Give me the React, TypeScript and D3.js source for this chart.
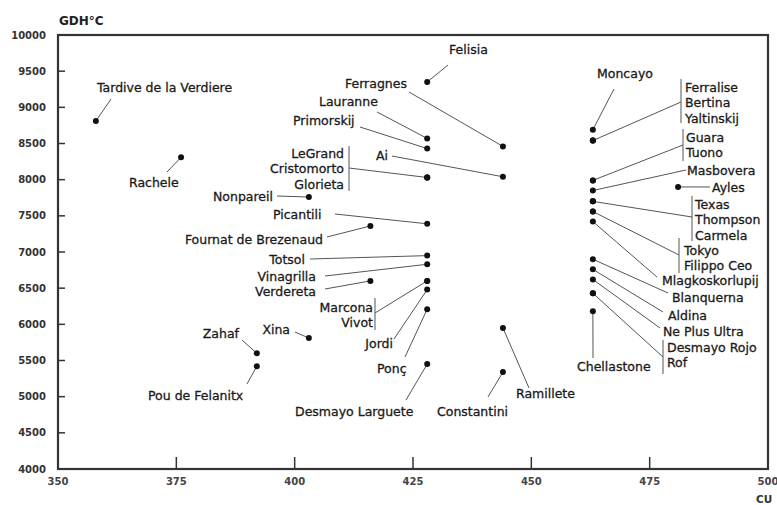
import React from "react";
import * as d3 from "d3";

// ---------- data ----------
const varieties = [
  "Tardive de la Verdiere", "Rachele", "Nonpareil", "Fournat de Brezenaud", "Picantili",
  "Felisia", "Lauranne", "Primorskij", "LeGrand", "Cristomorto", "Glorieta",
  "Ferragnes", "Ai", "Totsol", "Vinagrilla", "Verdereta", "Marcona", "Vivot",
  "Jordi", "Ponç", "Desmayo Larguete", "Xina", "Zahaf", "Pou de Felanitx",
  "Constantini", "Ramillete", "Moncayo", "Ferralise", "Bertina", "Yaltinskij",
  "Guara", "Tuono", "Masbovera", "Ayles", "Texas", "Thompson", "Carmela",
  "Tokyo", "Filippo Ceo", "Mlagkoskorlupij", "Blanquerna", "Aldina",
  "Ne Plus Ultra", "Desmayo Rojo", "Rof", "Chellastone",
];
const cuValues = [
  358, 376, 403, 416, 428,
  428, 428, 428, 428, 428, 428,
  444, 444, 428, 428, 416, 428, 428,
  428, 428, 428, 403, 392, 392,
  444, 444, 463, 463, 463, 463,
  463, 463, 463, 481, 463, 463, 463,
  463, 463, 463, 463, 463,
  463, 463, 463, 463,
];
const gdhValues = [
  8810, 8310, 7760, 7360, 7390,
  9350, 8570, 8430, 8030, 8030, 8030,
  8460, 8040, 6950, 6830, 6600, 6600, 6600,
  6480, 6210, 5450, 5810, 5600, 5420,
  5340, 5950, 8690, 8540, 8540, 8540,
  7990, 7990, 7850, 7900, 7700, 7700, 7700,
  7560, 7560, 7420, 6900, 6760,
  6620, 6430, 6430, 6180,
];
const xTicks = [350, 375, 400, 425, 450, 475, 500];
const yTicks = [4000, 4500, 5000, 5500, 6000, 6500, 7000, 7500, 8000, 8500, 9000, 9500, 10000];
const yTitle = "GDH°C";
const xTitle = "CU";

// ---------- label layout (pixels) ----------
type Ann = {
  names: string[];
  tx: number; ty: number; anchor: "start" | "end";
  lx: number; ly: number;
  bracket?: [number, number, number];
};
const annotations: Ann[] = [
  { names: ["Tardive de la Verdiere"], tx: 97, ty: 87, anchor: "start", lx: 111, ly: 99 },
  { names: ["Rachele"], tx: 129, ty: 182, anchor: "start", lx: 167, ly: 172 },
  { names: ["Nonpareil"], tx: 273, ty: 196, anchor: "end", lx: 277, ly: 196 },
  { names: ["Fournat de Brezenaud"], tx: 323, ty: 239, anchor: "end", lx: 327, ly: 237 },
  { names: ["Picantili"], tx: 273, ty: 214, anchor: "start", lx: 335, ly: 214 },
  { names: ["Felisia"], tx: 449, ty: 49, anchor: "start", lx: 448, ly: 65 },
  { names: ["Ferragnes"], tx: 345, ty: 83, anchor: "start", lx: 409, ly: 92 },
  { names: ["Lauranne"], tx: 319, ty: 101, anchor: "start", lx: 377, ly: 112 },
  { names: ["Primorskij"], tx: 293, ty: 120, anchor: "start", lx: 360, ly: 127 },
  { names: ["LeGrand", "Cristomorto", "Glorieta"], tx: 344, ty: 153, anchor: "end", lx: 349, ly: 168, bracket: [349, 146, 191] },
  { names: ["Ai"], tx: 376, ty: 155, anchor: "start", lx: 392, ly: 156 },
  { names: ["Totsol"], tx: 305, ty: 259, anchor: "end", lx: 310, ly: 259 },
  { names: ["Vinagrilla"], tx: 316, ty: 276, anchor: "end", lx: 325, ly: 276 },
  { names: ["Verdereta"], tx: 316, ty: 291, anchor: "end", lx: 325, ly: 289 },
  { names: ["Marcona", "Vivot"], tx: 373, ty: 307, anchor: "end", lx: 375, ly: 313, bracket: [375, 298, 330] },
  { names: ["Jordi"], tx: 393, ty: 343, anchor: "end", lx: 394, ly: 339 },
  { names: ["Ponç"], tx: 377, ty: 368, anchor: "start", lx: 405, ly: 357 },
  { names: ["Desmayo Larguete"], tx: 295, ty: 411, anchor: "start", lx: 406, ly: 400 },
  { names: ["Xina"], tx: 290, ty: 329, anchor: "end", lx: 295, ly: 332 },
  { names: ["Zahaf"], tx: 239, ty: 333, anchor: "end", lx: 242, ly: 340 },
  { names: ["Pou de Felanitx"], tx: 148, ty: 395, anchor: "start", lx: 247, ly: 384 },
  { names: ["Constantini"], tx: 437, ty: 411, anchor: "start", lx: 488, ly: 397 },
  { names: ["Ramillete"], tx: 516, ty: 393, anchor: "start", lx: 529, ly: 388 },
  { names: ["Moncayo"], tx: 597, ty: 73, anchor: "start", lx: 614, ly: 89 },
  { names: ["Ferralise", "Bertina", "Yaltinskij"], tx: 685, ty: 87, anchor: "start", lx: 681, ly: 102, bracket: [681, 79, 123] },
  { names: ["Guara", "Tuono"], tx: 686, ty: 137, anchor: "start", lx: 683, ly: 145, bracket: [683, 129, 161] },
  { names: ["Masbovera"], tx: 687, ty: 170, anchor: "start", lx: 686, ly: 170 },
  { names: ["Ayles"], tx: 712, ty: 187, anchor: "start", lx: 710, ly: 187 },
  { names: ["Texas", "Thompson", "Carmela"], tx: 695, ty: 204, anchor: "start", lx: 692, ly: 217, bracket: [692, 196, 241] },
  { names: ["Tokyo", "Filippo Ceo"], tx: 684, ty: 250, anchor: "start", lx: 679, ly: 255, bracket: [679, 238, 273] },
  { names: ["Mlagkoskorlupij"], tx: 662, ty: 280, anchor: "start", lx: 657, ly: 277 },
  { names: ["Blanquerna"], tx: 672, ty: 297, anchor: "start", lx: 668, ly: 293 },
  { names: ["Aldina"], tx: 668, ty: 315, anchor: "start", lx: 663, ly: 312 },
  { names: ["Ne Plus Ultra"], tx: 663, ty: 331, anchor: "start", lx: 660, ly: 328 },
  { names: ["Desmayo Rojo", "Rof"], tx: 667, ty: 347, anchor: "start", lx: 663, ly: 357, bracket: [663, 340, 374] },
  { names: ["Chellastone"], tx: 577, ty: 366, anchor: "start", lx: 593, ly: 358 },
];

const W = 777, H = 505;
const M = { left: 58, right: 768, top: 35, bottom: 469 };
const LINE_H = 15.5;
const FONT = "'DejaVu Sans', sans-serif";

export default function App() {
  const x = d3.scaleLinear().domain([350, 500]).range([M.left, M.right]);
  const y = d3.scaleLinear().domain([4000, 10000]).range([M.bottom, M.top]);
  const idx = (n: string) => varieties.indexOf(n);
  const px = (n: string) => x(cuValues[idx(n)]);
  const py = (n: string) => y(gdhValues[idx(n)]);

  return (
    <svg width={W} height={H} style={{ position: "absolute", left: 0, top: 0, background: "#fff" }}>
      {/* ticks */}
      {yTicks.map((t) => (
        <g key={"y" + t}>
          <line x1={M.left} x2={M.left + 7} y1={y(t)} y2={y(t)} stroke="#333" strokeWidth={1.5} />
          <text x={46} y={y(t) + 3.6} textAnchor="end" fontFamily={FONT} fontWeight="bold" fontSize={10} fill="#333">{t}</text>
        </g>
      ))}
      {xTicks.map((t) => (
        <g key={"x" + t}>
          <line x1={x(t)} x2={x(t)} y1={M.bottom} y2={M.bottom - 12} stroke="#333" strokeWidth={1.5} />
          <text x={x(t)} y={485} textAnchor="middle" fontFamily={FONT} fontWeight="bold" fontSize={10} fill="#444">{t}</text>
        </g>
      ))}
      <rect x={M.left} y={M.top} width={M.right - M.left} height={M.bottom - M.top} fill="none" stroke="#333" strokeWidth={2.2} />
      <text x={59} y={25} fontFamily={FONT} fontWeight="bold" fontSize={12} fill="#222">{yTitle}</text>
      <text x={756} y={503} fontFamily={FONT} fontWeight="bold" fontSize={10.5} fill="#333">{xTitle}</text>

      {/* annotations */}
      {annotations.map((a, i) => (
        <g key={"a" + i}>
          <line x1={a.lx} y1={a.ly} x2={px(a.names[0])} y2={py(a.names[0])} stroke="#555" strokeWidth={1} />
          {a.bracket && (
            <line x1={a.bracket[0]} x2={a.bracket[0]} y1={a.bracket[1]} y2={a.bracket[2]} stroke="#555" strokeWidth={1} />
          )}
          {a.names.map((n, j) => (
            <text key={n} x={a.tx} y={a.ty + j * LINE_H + 4.5} textAnchor={a.anchor} fontFamily={FONT} fontSize={12.5} fill="#1a1a1a" stroke="#1a1a1a" strokeWidth={0.3}>{n}</text>
          ))}
        </g>
      ))}

      {/* points */}
      {varieties.map((n, i) => (
        <circle key={"p" + i} cx={x(cuValues[i])} cy={y(gdhValues[i])} r={3} fill="#111" />
      ))}
    </svg>
  );
}
